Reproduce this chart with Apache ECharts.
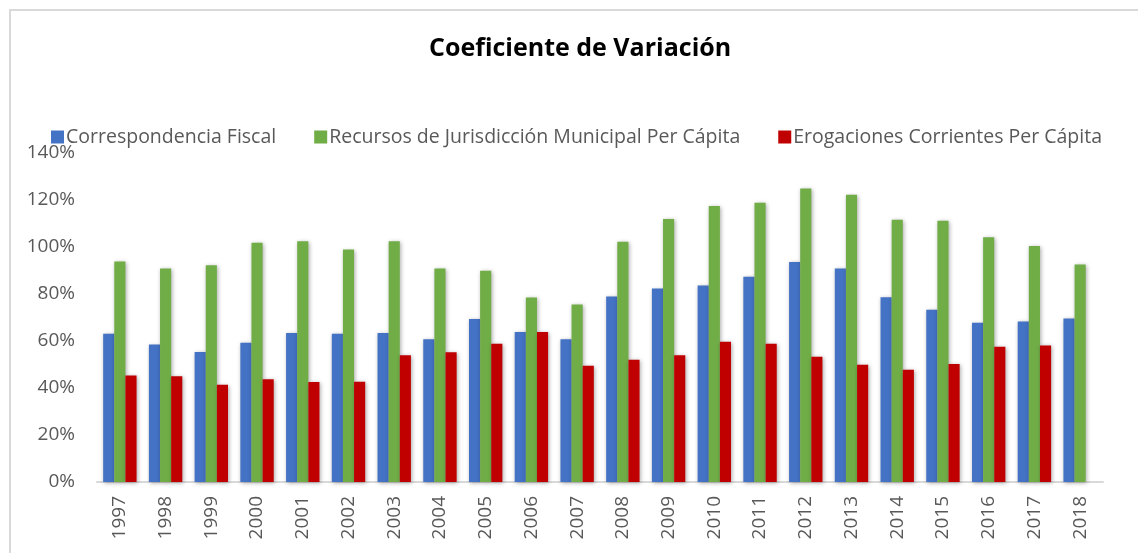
<!DOCTYPE html>
<html>
<head>
  <meta charset="UTF-8">
  <title>Coeficiente de Variación</title>
  <script src="https://cdn.jsdelivr.net/npm/echarts@6/dist/echarts.min.js"></script>
  <style>
    body { margin: 0; padding: 0; background: #fff; }
    #frame {
      position: absolute; left: 9px; top: 9px; width: 1140px; height: 560px;
      border: 2px solid #d9d9d9; box-sizing: border-box;
    }
    #chart { position: absolute; left: 0; top: 0; width: 1138px; height: 553px; }
  </style>
</head>
<body>
  <div id="frame"></div>
  <div id="chart"></div>

  <script>
    // data (percent)
    var years = ['1997', '1998', '1999', '2000', '2001', '2002', '2003', '2004', '2005', '2006', '2007',
      '2008', '2009', '2010', '2011', '2012', '2013', '2014', '2015', '2016', '2017', '2018'];
    var correspondencia = [63.1, 58.5, 55.3, 59.3, 63.4, 63.1, 63.4, 60.7, 69.4, 63.8, 60.7,
      78.9, 82.3, 83.6, 87.3, 93.6, 90.8, 78.6, 73.3, 67.8, 68.3, 69.6];
    var recursos = [93.8, 90.8, 92.2, 101.8, 102.5, 98.9, 102.4, 90.9, 89.9, 78.5, 75.5,
      102.2, 111.9, 117.4, 118.8, 124.9, 122.2, 111.6, 111.2, 104.1, 100.4, 92.6];
    var erogaciones = [45.3, 45.0, 41.4, 43.7, 42.6, 42.7, 53.9, 55.2, 58.8, 63.8, 49.5,
      52.0, 53.9, 59.7, 58.8, 53.3, 49.9, 47.8, 50.2, 57.6, 58.1, null];

    var chart = echarts.init(document.getElementById('chart'), null, { renderer: 'canvas' });
    var font = '"Open Sans", "Noto Sans", sans-serif';
    var shadow = { shadowBlur: 4, shadowColor: 'rgba(0,0,0,0.35)', shadowOffsetX: 1, shadowOffsetY: 1 };

    function barSeries(name, data, color) {
      return {
        name: name,
        type: 'bar',
        data: data,
        barGap: '0%',
        barCategoryGap: '27%',
        itemStyle: Object.assign({ color: color }, shadow)
      };
    }

    chart.setOption({
      animation: false,
      title: {
        text: 'Coeficiente de Variación',
        left: 424,
        top: 31,
        textStyle: { fontFamily: font, fontWeight: 'bold', fontSize: 25, color: '#000' }
      },
      legend: {
        left: 46,
        top: 122,
        itemWidth: 13,
        itemHeight: 13,
        itemGap: 38,
        icon: 'rect',
        textStyle: { fontFamily: font, fontSize: 19.5, color: '#595959', padding: [0, 0, 0, -3] },
        data: ['Correspondencia Fiscal', 'Recursos de Jurisdicción Municipal Per Cápita', 'Erogaciones Corrientes Per Cápita']
      },
      grid: { left: 97, right: 35, top: 153, bottom: 71, containLabel: false },
      xAxis: {
        type: 'category',
        data: years,
        axisLine: { lineStyle: { color: '#d9d9d9', width: 2 } },
        axisTick: { show: false },
        axisLabel: { rotate: 90, margin: 14, fontFamily: font, fontSize: 19, color: '#595959' }
      },
      yAxis: {
        type: 'value',
        min: 0,
        max: 140,
        interval: 20,
        splitLine: { show: false },
        axisLine: { show: false },
        axisTick: { show: false },
        axisLabel: { formatter: '{value}%', margin: 22, fontFamily: font, fontSize: 19, color: '#595959' }
      },
      series: [
        barSeries('Correspondencia Fiscal', correspondencia, '#4472c4'),
        barSeries('Recursos de Jurisdicción Municipal Per Cápita', recursos, '#70ad47'),
        barSeries('Erogaciones Corrientes Per Cápita', erogaciones, '#c00000')
      ]
    });
  </script>
</body>
</html>
